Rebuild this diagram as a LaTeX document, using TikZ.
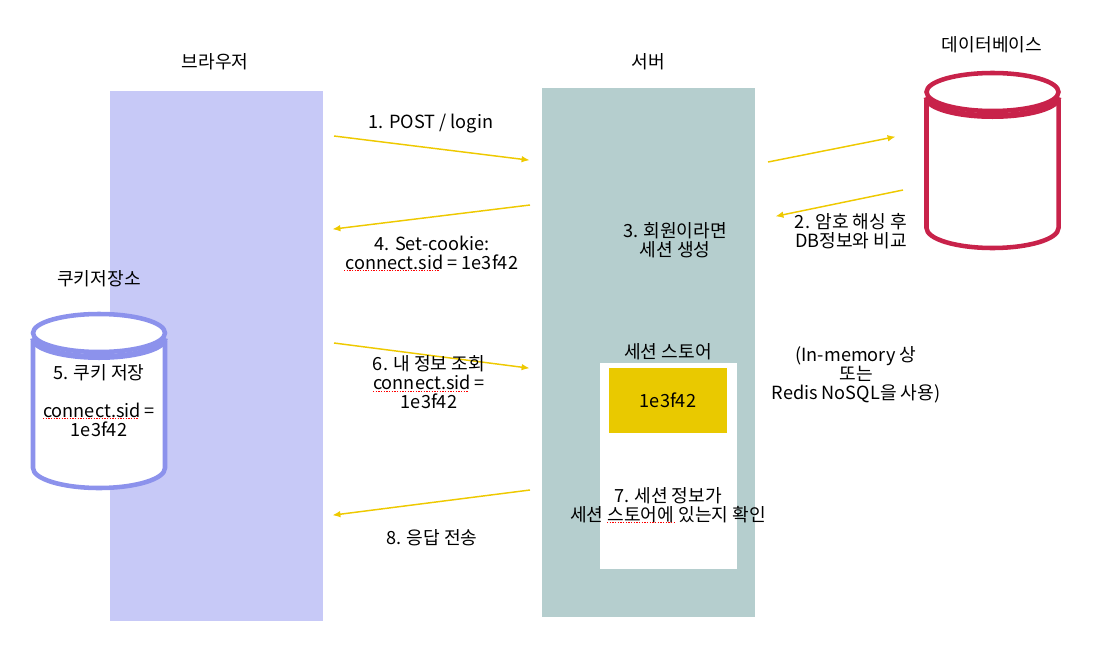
\documentclass[tikz,border=0pt]{standalone}
\usepackage{fontspec}
\setmainfont{Noto Sans CJK KR}
\usetikzlibrary{positioning,arrows.meta}

\definecolor{browserfill}{HTML}{C7C9F7}
\definecolor{serverfill}{HTML}{B5CECE}
\definecolor{keyfill}{HTML}{E9C900}
\definecolor{flowline}{HTML}{EEC900}
\definecolor{dbline}{HTML}{C8224A}
\definecolor{cookieline}{HTML}{8C92EC}

\tikzset{
  panel/.style={inner sep=0pt, outer sep=0pt},
  flow/.style={-{Latex[length=6pt,width=5pt]}, flowline, line width=1.1pt, shorten >=-1.2pt},
  spell/.style={red, line width=0.7pt, dash pattern=on 1pt off 1pt},
  label/.style={align=center, inner sep=0pt, font=\fontsize{13.6}{14.3}\selectfont},
  can/.style={line width=3.4pt, fill=white}
}

% can: centre x, top y, bottom y, half width, colour
\newcommand{\candraw}[5]{
  \draw[can, draw=#5] (#1-#4,#2+8) -- (#1-#4,#3-20) arc[start angle=180, end angle=0, x radius=#4, y radius=20] -- (#1+#4,#2+8);
  \draw[#5, line width=4.5pt] (#1-#4,#2+5) arc[start angle=180, end angle=0, x radius=#4, y radius=19];
  \draw[can, draw=#5] (#1,#2) ellipse[x radius=#4, y radius=19];
}

\begin{document}
\begin{tikzpicture}[x=0.75pt, y=-0.75pt]
  \useasboundingbox (0,0) rectangle (1116,653);

  % columns
  \node[panel, fill=browserfill, minimum width=159.75pt, minimum height=397.5pt] (browser) at (216.5,356) {};
  \node[panel, fill=serverfill, minimum width=159.75pt, minimum height=396.75pt] (server) at (648.5,352.5) {};
  \node[panel, fill=white, minimum width=102.75pt, minimum height=154.5pt] (store) at (668.5,466) {};
  \node[panel, label, fill=keyfill, minimum width=88.5pt, minimum height=48.75pt] (sessionkey) at (668,400.5) {1e3f42};

  % storages
  \candraw{992.5}{92}{248}{66}{dbline}
  \candraw{99}{333}{488}{66}{cookieline}

  % titles
  \node[label] (browsertitle) at (215,62) {브라우저};
  \node[label] (servertitle) at (648,62) {서버};
  \node[label] (dbtitle) at (992,45) {데이터베이스};
  \node[label] (cookietitle) at (99,279) {쿠키저장소};
  \node[label] (storetitle) at (668,352) {세션 스토어};

  % arrow ends
  \coordinate (login1) at (334,136);
  \coordinate (login2) at (528,160);
  \coordinate (setcookie1) at (530,205);
  \coordinate (setcookie2) at (334,229);
  \coordinate (info1) at (334,343);
  \coordinate (info2) at (528,368);
  \coordinate (reply1) at (530,490);
  \coordinate (reply2) at (334,515);
  \coordinate (query1) at (768,162);
  \coordinate (query2) at (894,137);
  \coordinate (result1) at (903,190);
  \coordinate (result2) at (777,216);

  \draw[flow] (login1) -- (login2);
  \draw[flow] (setcookie1) -- (setcookie2);
  \draw[flow] (info1) -- (info2);
  \draw[flow] (reply1) -- (reply2);
  \draw[flow] (query1) -- (query2);
  \draw[flow] (result1) -- (result2);

  % step labels
  \node[label] (step1) at (431,124) {1. POST / login};
  \node[label] (step2) at (851,231) {2. 암호 해싱 후\\DB정보와 비교};
  \node[label] (step3) at (675,240) {3. 회원이라면\\세션 생성};
  \node[label] (step4) at (432,253) {4. Set-cookie:\\connect.sid = 1e3f42};
  \node[label] (step5) at (99,401) {5. 쿠키 저장\\[14.3pt]connect.sid =\\1e3f42};
  \node[label] (step6) at (429,382) {6. 내 정보 조회\\connect.sid =\\1e3f42};
  \node[label] (step7) at (668,505) {7. 세션 정보가\\세션 스토어에 있는지 확인};
  \node[label] (step8) at (432,538) {8. 응답 전송};
  \node[label] (memory) at (856,375) {(In-memory 상\\또는\\Redis NoSQL을 사용)};

  % spell check marks
  \draw[spell] (344,270) -- (439,270);
  \draw[spell] (373,391) -- (469,391);
  \draw[spell] (43,418) -- (138,418);
  \draw[spell] (607,522) -- (674,522);
\end{tikzpicture}
\end{document}
